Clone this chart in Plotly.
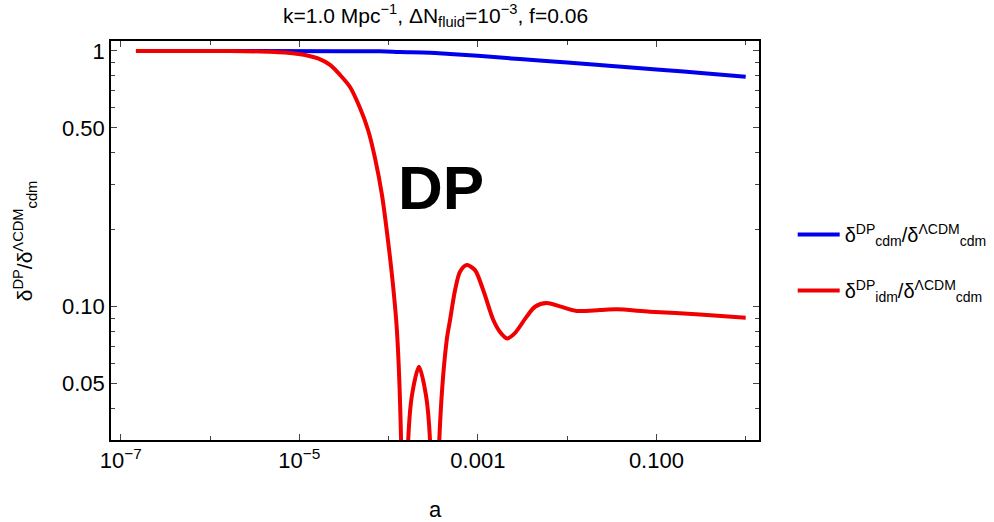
import plotly.graph_objects as go

# ---- data ----
a_cdm = [1.48e-7, 8.0e-5, 1.34e-4, 2.91e-4, 4.88e-4, 1.0e-3, 2.95e-3, 1.0e-2, 3.16e-2, 0.1, 0.316, 1.0]
r_cdm = [1.0, 0.997, 0.991, 0.985, 0.973, 0.958, 0.930, 0.902, 0.874, 0.847, 0.820, 0.793]

a_idm = [1.48e-7, 7.73e-7, 1.67e-6, 3.63e-6, 7.87e-6, 1.16e-5, 1.62e-5, 2.21e-5, 2.86e-5,
         3.70e-5, 4.79e-5, 5.89e-5, 7.05e-5, 8.44e-5, 9.84e-5, 1.12e-4, 1.24e-4,
         1.38e-4, 1.51e-4,
         1.66e-4, 1.83e-4, 2.19e-4, 2.62e-4, 2.91e-4, 3.28e-4,
         3.70e-4, 4.48e-4, 4.88e-4, 5.55e-4, 6.31e-4, 7.50e-4, 9.29e-4, 1.15e-3,
         1.49e-3, 1.77e-3, 2.13e-3, 2.60e-3, 3.52e-3, 4.37e-3, 5.89e-3, 8.30e-3,
         1.28e-2, 2.33e-2, 3.58e-2, 8.45e-2, 0.307, 1.0]
r_idm = [1.0, 1.0, 1.0, 0.995, 0.982, 0.965, 0.935, 0.882, 0.806,
         0.723, 0.598, 0.491, 0.381, 0.273, 0.182, 0.122, 0.0810,
         0.0302, 0.001,
         0.0302, 0.0452, 0.0583, 0.0452, 0.0302, 0.001,
         0.0302, 0.0742, 0.0887, 0.116, 0.137, 0.1455, 0.139, 0.116,
         0.0887, 0.0797, 0.0752, 0.0789, 0.0915, 0.100, 0.1034, 0.1003,
         0.0963, 0.0971, 0.0977, 0.0957, 0.0933, 0.0906]

x_tickvals = [1e-7, 1e-5, 1e-3, 1e-1]
x_ticktext = ["10<sup>\u22127</sup>", "10<sup>\u22125</sup>", "0.001", "0.100"]
x_minor = [1e-6, 1e-4, 1e-2, 1.0]
y_tickvals = [1.0, 0.5, 0.1, 0.05]
y_ticktext = ["1", "0.50", "0.10", "0.05"]
y_minor = [0.9, 0.8, 0.7, 0.6, 0.4, 0.3, 0.2, 0.09, 0.08, 0.07, 0.06, 0.04]

name_cdm = "\u03b4<sup>DP</sup><sub>cdm</sub>/\u03b4<sup>\u039bCDM</sup><sub>cdm</sub>"
name_idm = "\u03b4<sup>DP</sup><sub>idm</sub>/\u03b4<sup>\u039bCDM</sup><sub>cdm</sub>"

FONT = "Liberation Sans, Arial, sans-serif"

fig = go.Figure()
fig.add_trace(go.Scatter(x=a_cdm, y=r_cdm, mode="lines", name=name_cdm, legendgroup="g1",
                         line=dict(color="rgb(0,0,235)", width=4, shape="spline")))
fig.add_trace(go.Scatter(x=a_idm, y=r_idm, mode="lines", name=name_idm, legendgroup="g2",
                         line=dict(color="rgb(240,0,0)", width=4, shape="spline", smoothing=0.8)))

axis_common = dict(showline=True, linecolor="black", linewidth=1.5, mirror="ticks",
                   ticks="inside", ticklen=6, tickwidth=1, tickcolor="#444",
                   showgrid=False, zeroline=False,
                   tickfont=dict(family=FONT, size=22, color="black"))

fig.update_xaxes(type="log", range=[-7.109, 0.149], tickmode="array",
                 tickvals=x_tickvals, ticktext=x_ticktext,
                 minor=dict(tickmode="array", tickvals=x_minor, ticks="inside", ticklen=4,
                            tickcolor="#444", showgrid=False),
                 **axis_common)
fig.update_yaxes(type="log", range=[-1.521, 0.039], tickmode="array",
                 tickvals=y_tickvals, ticktext=y_ticktext,
                 minor=dict(tickmode="array", tickvals=y_minor, ticks="inside", ticklen=4,
                            tickcolor="#444", showgrid=False),
                 **axis_common)

fig.update_layout(
    width=994, height=522,
    margin=dict(l=111, r=235, t=41, b=82, autoexpand=False),
    paper_bgcolor="white", plot_bgcolor="white",
    font=dict(family=FONT, color="black"),
    showlegend=True,
    legend=dict(x=1.052, y=0.445, xanchor="left", yanchor="middle",
                font=dict(family=FONT, size=20, color="black"),
                itemwidth=42,
                bgcolor="rgba(0,0,0,0)", tracegroupgap=27),
    annotations=[
        dict(text="k=1.0 Mpc<sup>\u22121</sup>, \u0394N<sub>fluid</sub>=10<sup>\u22123</sup>, f=0.06",
             xref="paper", yref="paper", x=0.5, y=1.0, yshift=26, showarrow=False,
             xanchor="center", yanchor="middle",
             font=dict(family=FONT, size=21, color="black")),
        dict(text="a", xref="paper", yref="paper", x=0.5, y=-0.175, showarrow=False,
             xanchor="center", yanchor="middle",
             font=dict(family=FONT, size=22, color="black")),
        dict(text="\u03b4<sup>DP</sup>/\u03b4<sup>\u039bCDM</sup><sub>cdm</sub>",
             xref="paper", yref="paper", x=-0.133, y=0.5, showarrow=False,
             textangle=-90, xanchor="center", yanchor="middle",
             font=dict(family=FONT, size=21, color="black")),
        dict(text="<b>DP</b>", xref="paper", yref="paper", x=0.509, y=0.632, showarrow=False,
             xanchor="center", yanchor="middle",
             font=dict(family=FONT, size=62, color="black")),
    ],
)

fig.write_html("out.html")
